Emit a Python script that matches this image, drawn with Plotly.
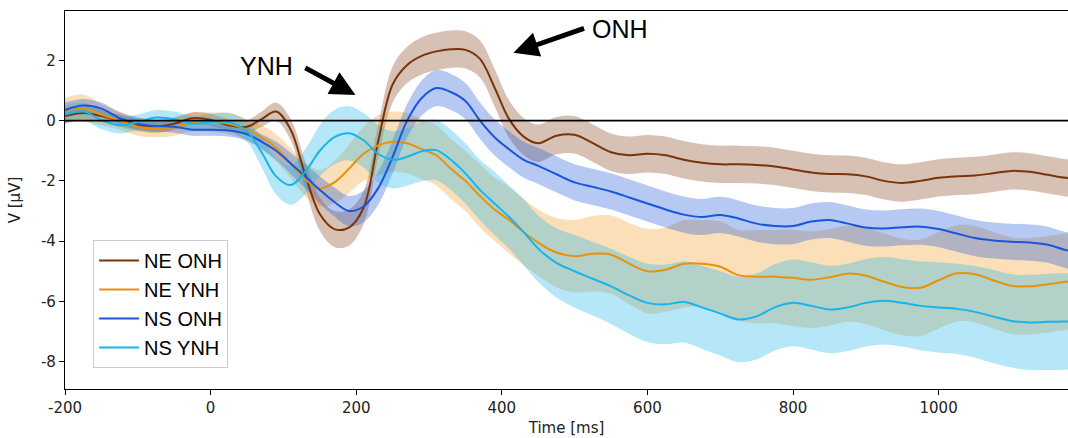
import plotly.graph_objects as go

time_ms = [-200, -175, -150, -125, -100, -75, -50, -25, 0, 25, 50,
           70, 90, 110, 130, 150, 170, 190, 210, 230, 250, 270, 290, 310, 330, 350, 370, 390, 410, 430, 450,
           475, 500, 525, 550, 575, 600, 625, 650, 675, 700, 725, 750, 775, 800, 825, 850, 875, 900, 925, 950,
           975, 1000, 1025, 1050, 1075, 1100, 1125, 1150, 1175, 1200]

series_names = ["NE ONH", "NE YNH", "NS ONH", "NS YNH"]

ne_onh = [0.15, 0.25, 0.15, 0.0, -0.15, -0.2, -0.1, 0.08, 0.03, -0.15, -0.2,
          0.05, 0.3, -0.3, -1.8, -3.1, -3.6, -3.55, -2.9, -0.7, 1.2, 1.85, 2.15, 2.3, 2.37, 2.35, 2.05, 1.1, 0.05, -0.53, -0.75,
          -0.5, -0.47, -0.75, -1.05, -1.15, -1.1, -1.15, -1.3, -1.4, -1.45, -1.45, -1.47, -1.52, -1.62, -1.72, -1.77, -1.78, -1.85, -2.0, -2.07,
          -2.0, -1.9, -1.85, -1.82, -1.75, -1.67, -1.7, -1.8, -1.9, -1.95]
ne_ynh = [0.35, 0.42, 0.2, 0.0, -0.2, -0.25, -0.2, -0.05, -0.05, -0.1, -0.3,
          -0.55, -0.9, -1.42, -1.95, -2.25, -2.05, -1.6, -1.1, -0.82, -0.7, -0.75, -0.95, -1.15, -1.6, -2.0, -2.5, -2.95, -3.3, -3.7, -4.05,
          -4.38, -4.5, -4.42, -4.45, -4.75, -5.0, -4.95, -4.75, -4.75, -4.85, -5.13, -5.18, -5.18, -5.22, -5.28, -5.2, -5.08, -5.15, -5.35, -5.52,
          -5.55, -5.3, -5.07, -5.1, -5.3, -5.48, -5.5, -5.43, -5.35, -5.3]
ns_onh = [0.35, 0.5, 0.4, 0.08, -0.1, -0.18, -0.2, -0.3, -0.3, -0.33, -0.45,
          -0.7, -1.0, -1.42, -1.85, -2.3, -2.7, -3.0, -2.85, -2.25, -1.2, 0.0, 0.75, 1.08, 0.95, 0.65, 0.0, -0.55, -0.95, -1.3, -1.5,
          -1.78, -2.05, -2.2, -2.35, -2.55, -2.75, -2.95, -3.12, -3.2, -3.13, -3.25, -3.42, -3.5, -3.5, -3.35, -3.3, -3.42, -3.55, -3.58, -3.54,
          -3.52, -3.6, -3.75, -3.9, -3.98, -4.02, -4.05, -4.12, -4.3, -4.4]
ns_ynh = [0.2, 0.3, 0.02, -0.15, -0.05, 0.1, 0.05, -0.1, -0.05, -0.05, -0.35,
          -1.05, -1.85, -2.14, -1.7, -1.0, -0.55, -0.42, -0.65, -1.1, -1.3, -1.2, -1.02, -0.98, -1.3, -1.75, -2.3, -2.75, -3.2, -3.7, -4.25,
          -4.72, -5.0, -5.25, -5.5, -5.8, -6.05, -6.1, -6.02, -6.2, -6.4, -6.6, -6.5, -6.2, -6.05, -6.15, -6.27, -6.2, -6.05, -5.98, -6.05,
          -6.15, -6.2, -6.25, -6.35, -6.5, -6.65, -6.7, -6.68, -6.67, -6.65]

ne_onh_err = [0.25, 0.22, 0.2, 0.2, 0.2, 0.2, 0.2, 0.2, 0.2, 0.2, 0.22,
              0.25, 0.3, 0.35, 0.45, 0.55, 0.6, 0.6, 0.55, 0.55, 0.6, 0.6, 0.62, 0.62, 0.62, 0.62, 0.62, 0.62, 0.62, 0.62, 0.62,
              0.62, 0.62, 0.62, 0.62, 0.62, 0.62, 0.62, 0.62, 0.62, 0.62, 0.62, 0.62, 0.62, 0.62, 0.62, 0.62, 0.62, 0.62, 0.62, 0.62,
              0.62, 0.62, 0.62, 0.62, 0.62, 0.62, 0.62, 0.62, 0.62, 0.62]
ne_ynh_err = [0.4, 0.45, 0.35, 0.3, 0.3, 0.3, 0.3, 0.3, 0.32, 0.35, 0.35,
              0.4, 0.45, 0.5, 0.55, 0.6, 0.7, 0.8, 0.9, 1.0, 1.0, 1.0, 1.0, 1.0, 1.0, 1.0, 1.05, 1.05, 1.1, 1.1, 1.1,
              1.15, 1.2, 1.25, 1.3, 1.35, 1.4, 1.4, 1.45, 1.45, 1.5, 1.5, 1.55, 1.55, 1.6, 1.6, 1.6, 1.6, 1.6, 1.6, 1.6,
              1.6, 1.6, 1.6, 1.6, 1.6, 1.6, 1.6, 1.6, 1.6, 1.6]
ns_onh_err = [0.25, 0.22, 0.2, 0.2, 0.2, 0.2, 0.2, 0.2, 0.2, 0.2, 0.22,
              0.25, 0.3, 0.35, 0.4, 0.45, 0.48, 0.5, 0.52, 0.55, 0.55, 0.55, 0.58, 0.6, 0.6, 0.6, 0.6, 0.6, 0.6, 0.6, 0.6,
              0.6, 0.6, 0.6, 0.6, 0.6, 0.6, 0.6, 0.6, 0.6, 0.6, 0.6, 0.6, 0.6, 0.6, 0.6, 0.6, 0.6, 0.6, 0.6, 0.6,
              0.6, 0.6, 0.6, 0.6, 0.6, 0.6, 0.6, 0.6, 0.6, 0.6]
ns_ynh_err = [0.3, 0.3, 0.3, 0.28, 0.25, 0.25, 0.25, 0.25, 0.28, 0.3, 0.35,
              0.5, 0.6, 0.65, 0.75, 0.85, 0.9, 0.9, 0.9, 0.95, 0.95, 0.95, 1.0, 1.0, 1.0, 1.0, 1.0, 1.05, 1.05, 1.1, 1.1,
              1.15, 1.2, 1.22, 1.25, 1.28, 1.3, 1.32, 1.35, 1.38, 1.4, 1.42, 1.43, 1.43, 1.44, 1.45, 1.45, 1.45, 1.45, 1.45, 1.45,
              1.47, 1.5, 1.5, 1.52, 1.55, 1.55, 1.58, 1.6, 1.6, 1.6]

x_ticks = [-200, 0, 200, 400, 600, 800, 1000]
x_tick_labels = ["-200", "0", "200", "400", "600", "800", "1000"]
y_ticks = [-8, -6, -4, -2, 0, 2]
y_tick_labels = ["-8", "-6", "-4", "-2", "0", "2"]

line_colors = ["#7B3308", "#E8920C", "#1A56DB", "#18B4EC"]
fill_colors = ["rgba(123,51,8,0.30)", "rgba(240,150,20,0.30)", "rgba(26,86,219,0.32)", "rgba(24,180,236,0.32)"]

means = [ne_onh, ne_ynh, ns_onh, ns_ynh]
errs = [ne_onh_err, ne_ynh_err, ns_onh_err, ns_ynh_err]

fig = go.Figure()

for m, e, fc in zip(means, errs, fill_colors):
    lower = [a - b for a, b in zip(m, e)]
    upper = [a + b for a, b in zip(m, e)]
    fig.add_trace(go.Scatter(x=time_ms, y=lower, mode="lines", line=dict(width=0, shape="spline"),
                             showlegend=False, hoverinfo="skip"))
    fig.add_trace(go.Scatter(x=time_ms, y=upper, mode="lines", line=dict(width=0, shape="spline"),
                             fill="tonexty", fillcolor=fc, showlegend=False, hoverinfo="skip"))

for name, m, lc in zip(series_names, means, line_colors):
    fig.add_trace(go.Scatter(x=time_ms, y=m, mode="lines", name=name, legendgroup=name,
                             line=dict(color=lc, width=2, shape="spline")))

fig.add_shape(type="line", xref="paper", x0=0, x1=1, yref="y", y0=0, y1=0,
              line=dict(color="black", width=1.6), layer="above")

# annotations
fig.add_annotation(x=77, y=1.81, text="YNH", showarrow=False,
                   font=dict(family="Liberation Sans", size=25, color="black"))
fig.add_annotation(x=199, y=0.85, ax=128, ay=1.78, axref="x", ayref="y", xref="x", yref="y",
                   text="", showarrow=True, arrowhead=2, arrowsize=1.0, arrowwidth=5, arrowcolor="black", standoff=0)
fig.add_annotation(x=563, y=3.05, text="ONH", showarrow=False,
                   font=dict(family="Liberation Sans", size=25, color="black"))
fig.add_annotation(x=416, y=2.25, ax=515, ay=3.08, axref="x", ayref="y", xref="x", yref="y",
                   text="", showarrow=True, arrowhead=2, arrowsize=1.0, arrowwidth=5, arrowcolor="black", standoff=0)

tick_font = dict(family="DejaVu Sans", size=15, color="#222222")

fig.update_layout(
    width=1068, height=438,
    margin=dict(l=65, r=0, t=11, b=49, pad=0),
    plot_bgcolor="white", paper_bgcolor="white",
    showlegend=True,
    legend=dict(x=0.028, y=0.394, xanchor="left", yanchor="top", traceorder="normal",
                bgcolor="rgba(255,255,255,0.85)", bordercolor="#cccccc", borderwidth=1,
                font=dict(family="Liberation Sans", size=20, color="black"),
                tracegroupgap=3, itemwidth=40),
    xaxis=dict(range=[-200, 1177.7], tickvals=x_ticks, ticktext=x_tick_labels,
               showline=True, linecolor="black", linewidth=1.2, mirror=True,
               ticks="outside", ticklen=5, tickcolor="black", tickwidth=1,
               showgrid=False, zeroline=False, tickfont=tick_font,
               title=dict(text="Time [ms]", font=tick_font, standoff=6)),
    yaxis=dict(range=[-8.91, 3.64], tickvals=y_ticks, ticktext=y_tick_labels,
               showline=True, linecolor="black", linewidth=1.2, mirror=False,
               ticks="outside", ticklen=5, tickcolor="black", tickwidth=1,
               showgrid=False, zeroline=False, tickfont=tick_font,
               title=dict(text="V [μV]", font=tick_font, standoff=16)),
)

fig.write_html("out.html")
